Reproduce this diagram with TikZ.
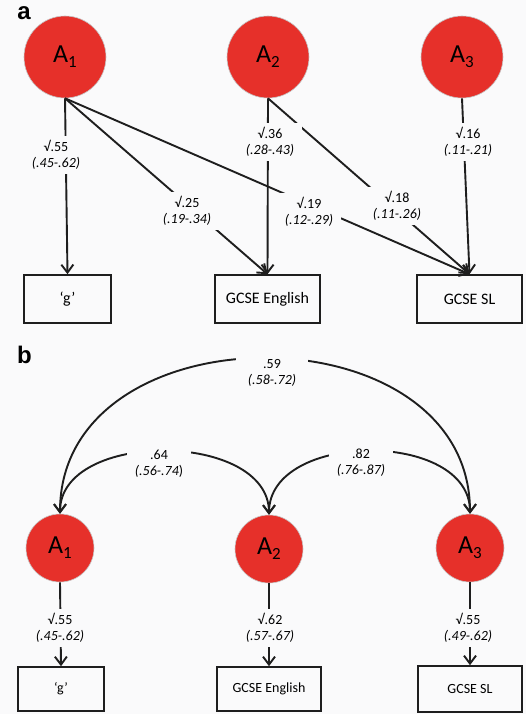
\documentclass[tikz,border=0pt]{standalone}
\usepackage{fontspec}
\setmainfont{Carlito}
\newfontfamily\panelfont{Liberation Sans}
\usetikzlibrary{arrows.meta}

\definecolor{latentred}{RGB}{230,48,42}
\definecolor{paper}{RGB}{250,250,251}
\definecolor{ink}{RGB}{30,30,30}
\newcommand{\lowidx}[1]{\raisebox{-0.4ex}{\fontsize{17}{17}\selectfont #1}}

\begin{document}
\begin{tikzpicture}[x=1pt, y=-1pt, >={Straight Barb[length=8pt,width=12pt]}]
    \tikzstyle{latent} = [circle,fill=latentred,draw=gray!45,line width=0.6pt,inner sep=0pt,font=\fontsize{26}{26}\selectfont]
    \tikzstyle{measure} = [rectangle,draw=ink,line width=1.6pt,fill=paper,inner sep=0pt,font=\fontsize{16}{18}\selectfont]
    \tikzstyle{path edge} = [draw=ink,line width=1.9pt,->]
    \tikzstyle{weight} = [fill=paper,inner xsep=8pt,inner ysep=4pt,align=center,font=\fontsize{14}{16}\selectfont]

      \fill[paper] (0,0) rectangle (526,714);
      \useasboundingbox (0,0) rectangle (526,714);

      % panel a
      \node[font=\panelfont\bfseries\fontsize{24}{24}\selectfont] (pa) at (24,13) {a};

      \node[latent,minimum size=82pt] (a1) at (65,57)  {A\lowidx{1}};
      \node[latent,minimum size=82pt] (a2) at (268,57) {A\lowidx{2}};
      \node[latent,minimum size=82pt] (a3) at (462,57) {A\lowidx{3}};

      \node[measure,minimum width=87pt,minimum height=48pt]  (g)   at (67.5,299)  {‘g’};
      \node[measure,minimum width=105pt,minimum height=48pt] (eng) at (267.5,299) {GCSE English};
      \node[measure,minimum width=105pt,minimum height=48pt] (sl)  at (469.5,299) {GCSE SL};

      \draw[path edge] (a1.south) -- (g.north);
      \draw[path edge] (a1.south) -- (eng.north);
      \draw[path edge] (a1.south) -- (sl.north);
      \draw[path edge] (a2.south) -- (eng.north);
      \draw[path edge] (a2.south) -- (sl.north);
      \draw[path edge] (a3.south) -- (sl.north);

      \node[weight] (wa1) at (56,155)  {√.55\\\textit{(.45-.62)}};
      \node[weight] (wa2) at (270,142) {√.36\\\textit{(.28-.43)}};
      \node[weight] (wa3) at (468,142) {√.16\\\textit{(.11-.21)}};
      \node[weight] (wa4) at (187,211) {√.25\\\textit{(.19-.34)}};
      \node[weight] (wa5) at (309,212) {√.19\\\textit{(.12-.29)}};
      \node[weight] (wa6) at (397,206) {√.18\\\textit{(.11-.26)}};

      % panel b
      \node[font=\panelfont\bfseries\fontsize{24}{24}\selectfont] (pb) at (24.5,355) {b};

      \node[latent,minimum size=68pt] (b1) at (60,548)  {A\lowidx{1}};
      \node[latent,minimum size=68pt] (b2) at (269,549) {A\lowidx{2}};
      \node[latent,minimum size=68pt] (b3) at (470,548) {A\lowidx{3}};

      \node[measure,minimum width=86pt,minimum height=44pt,font=\fontsize{14}{16}\selectfont]  (bg)   at (61,689)  {‘g’};
      \node[measure,minimum width=104pt,minimum height=44pt,font=\fontsize{14}{16}\selectfont] (beng) at (269,689) {GCSE English};
      \node[measure,minimum width=104pt,minimum height=46pt,font=\fontsize{14}{16}\selectfont] (bsl)  at (470,689) {GCSE SL};

      \draw[path edge,<->] (b1.north) .. controls +(0,-207) and +(0,-207) .. (b3.north);
      \draw[path edge,<->] (b1.north) .. controls +(0,-84) and +(0,-84) .. (b2.north);
      \draw[path edge,<->] (b2.north) .. controls +(0,-84) and +(0,-84) .. (b3.north);

      \draw[path edge] (b1.south) -- (bg.north);
      \draw[path edge] (b2.south) -- (beng.north);
      \draw[path edge] (b3.south) -- (bsl.north);

      \node[weight] (wb12) at (159,464) {.64\\\textit{(.56-.74})};
      \node[weight] (wb23) at (361,463) {.82\\\textit{(.76-.87)}};
      \node[weight,inner xsep=12pt] (wb13) at (272,373) {.59\\\textit{(.58-.72)}};
      \node[weight] (wb1) at (60,628)  {√.55\\\textit{(.45-.62)}};
      \node[weight] (wb2) at (270,628) {√.62\\\textit{(.57-.67)}};
      \node[weight] (wb3) at (468,628) {√.55\\\textit{(.49-.62)}};
    \end{tikzpicture}
\end{document}
